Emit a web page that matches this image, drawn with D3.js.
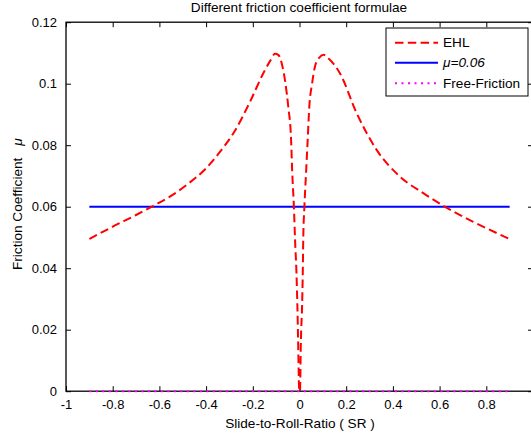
<!DOCTYPE html>
<html>
<head>
<meta charset="utf-8">
<script src="https://cdn.jsdelivr.net/npm/d3@7"></script>
<style>
html,body{margin:0;padding:0;background:#fff;}
svg{display:block;font-family:"Liberation Sans",Arial,Helvetica,sans-serif;}
</style>
</head>
<body>
<svg id="chart" width="531" height="439"></svg>
<script>
// ---- data ----
const srValues = [-0.9, -0.8, -0.7, -0.626, -0.55, -0.483, -0.4, -0.34, -0.283, -0.212, -0.155, -0.125, -0.105, -0.09, -0.076, -0.06, -0.048, -0.036, -0.031, -0.024, -0.019, -0.013, -0.009, -0.006, -0.001,
                  0.002, 0.006, 0.011, 0.014, 0.016, 0.021, 0.028, 0.035, 0.042, 0.054, 0.066, 0.085, 0.104, 0.12, 0.173, 0.245, 0.331, 0.43, 0.53, 0.616, 0.744, 0.9];
const ehlValues = [0.0495, 0.0535, 0.0573, 0.0603, 0.0635, 0.0671, 0.0725, 0.0779, 0.0839, 0.0941, 0.1034, 0.1075, 0.1097, 0.1093, 0.1066, 0.1000, 0.0925, 0.0817, 0.0709, 0.0600, 0.0492, 0.0384, 0.0275, 0.0167, 0.0,
                   0.0, 0.0167, 0.0275, 0.0384, 0.0492, 0.0600, 0.0709, 0.0817, 0.0925, 0.1001, 0.1055, 0.1085, 0.1094, 0.1085, 0.1034, 0.0904, 0.0784, 0.0698, 0.0644, 0.0603, 0.0551, 0.0495];
const constSR = [-0.9, 0.9];
const constMu = [0.06, 0.06];
const freeSR = [-0.9, 0.9];
const freeMu = [0, 0];
const xTicks = [-1, -0.8, -0.6, -0.4, -0.2, 0, 0.2, 0.4, 0.6, 0.8, 1];
const xTickLabels = ["-1", "-0.8", "-0.6", "-0.4", "-0.2", "0", "0.2", "0.4", "0.6", "0.8", ""];
const yTicks = [0, 0.02, 0.04, 0.06, 0.08, 0.1, 0.12];
const yTickLabels = ["0", "0.02", "0.04", "0.06", "0.08", "0.1", "0.12"];
const legendLabels = ["EHL", "\u03bc=0.06", "Free-Friction"];
const titleText = "Different friction coefficient formulae";
const xLabel = "Slide-to-Roll-Ratio ( SR )";
const yLabel = "Friction Coefficient";

// ---- layout ----
const svg = d3.select("#chart");
const L = 66, R = 533, T = 22.2, B = 391.2;
const x = d3.scaleLinear().domain([-1, 1]).range([L, R]);
const y = d3.scaleLinear().domain([0, 0.12]).range([B, T]);
const fs = 13, fsl = 13.6;

// axes box
const axisColor = "#000";
svg.append("rect").attr("x", L).attr("y", T).attr("width", R - L).attr("height", B - T)
  .attr("fill", "none").attr("stroke", axisColor).attr("stroke-width", 1.3);

const tickLen = 5;
const gx = svg.append("g").attr("transform", `translate(0,${B})`)
  .call(d3.axisBottom(x).tickValues(xTicks).tickSizeInner(-tickLen).tickSizeOuter(0).tickPadding(9)
    .tickFormat((d, i) => xTickLabels[i]));
const gxt = svg.append("g").attr("transform", `translate(0,${T})`)
  .call(d3.axisTop(x).tickValues(xTicks).tickSizeInner(-tickLen).tickSizeOuter(0).tickFormat(""));
const gy = svg.append("g").attr("transform", `translate(${L},0)`)
  .call(d3.axisLeft(y).tickValues(yTicks).tickSizeInner(-tickLen).tickSizeOuter(0).tickPadding(9)
    .tickFormat((d, i) => yTickLabels[i]));
const gyr = svg.append("g").attr("transform", `translate(${R},0)`)
  .call(d3.axisRight(y).tickValues(yTicks).tickSizeInner(-tickLen).tickSizeOuter(0).tickFormat(""));
[gx, gxt, gy, gyr].forEach(g => {
  g.select(".domain").remove();
  g.selectAll("line").attr("stroke", axisColor).attr("stroke-width", 1);
  g.selectAll("text").attr("font-size", fs).attr("fill", "#000").attr("font-family", "Liberation Sans, Arial, sans-serif");
});
gx.selectAll("text").attr("dy", "0.71em");

// series
const line = d3.line().x(d => x(d[0])).y(d => y(d[1]));
const smooth = d3.line().x(d => x(d[0])).y(d => y(d[1])).curve(d3.curveMonotoneX);
svg.append("path").datum(freeSR.map((s, i) => [s, freeMu[i]]))
  .attr("d", line).attr("fill", "none").attr("stroke", "#ff00ff").attr("stroke-width", 2)
  .attr("stroke-dasharray", "2,4.5");
svg.append("path").datum(constSR.map((s, i) => [s, constMu[i]]))
  .attr("d", line).attr("fill", "none").attr("stroke", "#0000ff").attr("stroke-width", 2);
svg.append("path").datum(srValues.map((s, i) => [s, ehlValues[i]]))
  .attr("d", smooth).attr("fill", "none").attr("stroke", "#ff0000").attr("stroke-width", 2)
  .attr("stroke-dasharray", "8.5,4.3").attr("stroke-linejoin", "round");

// title & labels
svg.append("text").attr("x", 299).attr("y", 12).attr("text-anchor", "middle")
  .attr("font-size", fsl).text(titleText);
svg.append("text").attr("x", 300).attr("y", 428).attr("text-anchor", "middle")
  .attr("font-size", fsl).text(xLabel);
const yl = svg.append("text").attr("transform", "translate(22,270) rotate(-90)")
  .attr("text-anchor", "start").attr("font-size", fsl);
yl.append("tspan").text(yLabel);
yl.append("tspan").attr("dx", 12).attr("font-style", "italic").text("\u03bc");

// legend
const lg = svg.append("g");
lg.append("rect").attr("x", 386).attr("y", 28).attr("width", 142).attr("height", 68)
  .attr("fill", "#fff").attr("stroke", "#000").attr("stroke-width", 1);
const legendStyles = [
  {color: "#ff0000", dash: "8.5,4.3", italic: false},
  {color: "#0000ff", dash: null, italic: true},
  {color: "#ff00ff", dash: "2,4.5", italic: false}
];
const ly = [42.7, 62.7, 83.3];
legendLabels.forEach((lab, i) => {
  const st = legendStyles[i];
  const l = lg.append("line").attr("x1", 395).attr("x2", 438).attr("y1", ly[i]).attr("y2", ly[i])
    .attr("stroke", st.color).attr("stroke-width", 2);
  if (st.dash) l.attr("stroke-dasharray", st.dash);
  lg.append("text").attr("x", 443).attr("y", ly[i]).attr("dy", "0.35em")
    .attr("font-size", fsl).attr("font-style", st.italic ? "italic" : "normal").text(lab);
});
</script>
</body>
</html>
